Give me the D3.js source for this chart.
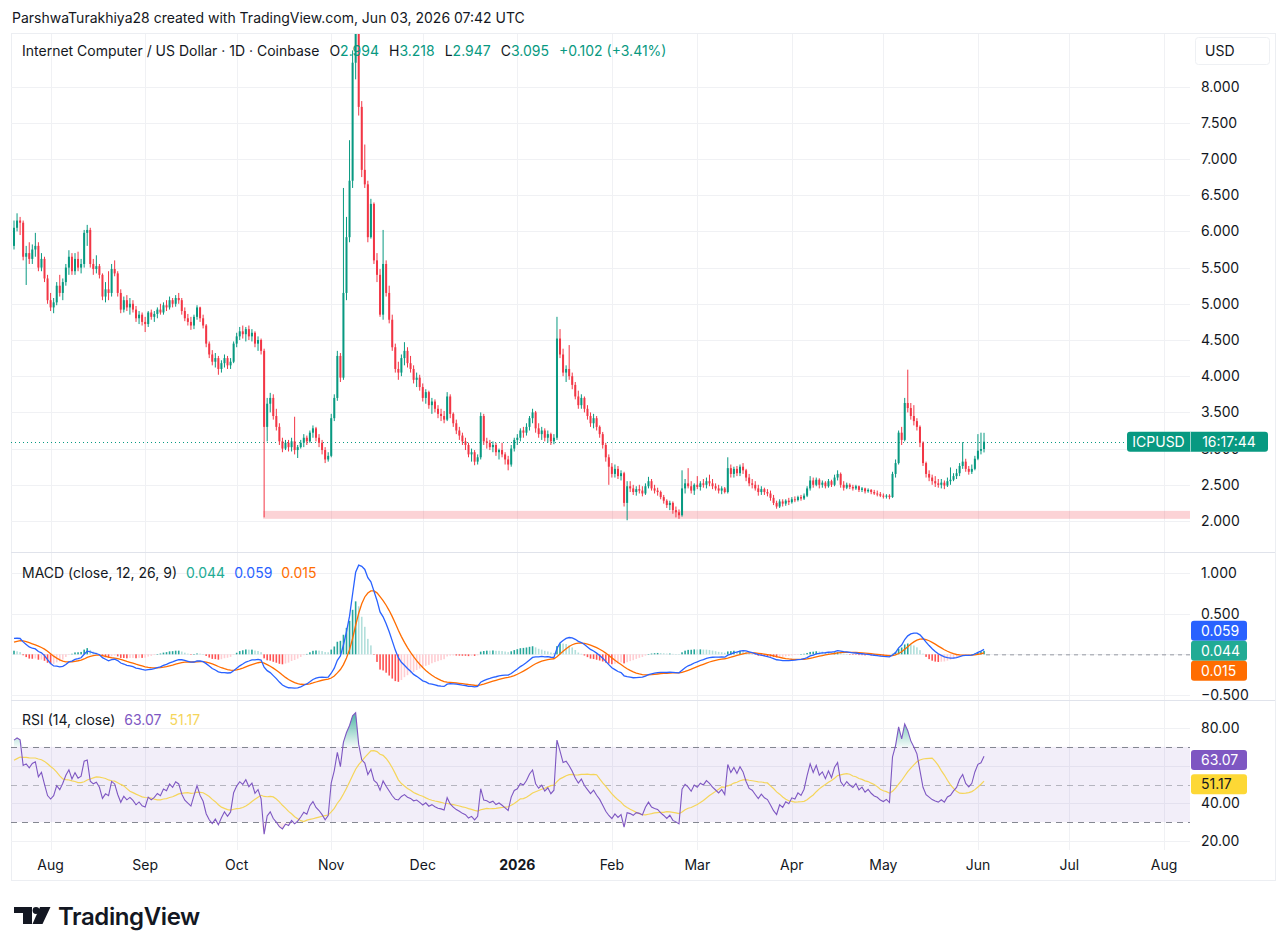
<!DOCTYPE html>
<html><head><meta charset="utf-8">
<script src="https://cdn.jsdelivr.net/npm/d3@7/dist/d3.min.js"></script>
<style>
html,body{margin:0;padding:0;background:#fff;}
svg{display:block;font-family:Inter,"Noto Sans",Roboto,sans-serif;}
</style></head><body>
<svg id="c" width="1287" height="952"></svg>
<script>
// ---------------- DATA ----------------
const startDate = "2025-07-20";   // first daily candle
const opens = [
5.80,6.05,6.15,6.12,5.65,5.70,5.62,5.75,5.80,5.50,
5.62,5.35,5.05,4.95,5.02,5.25,5.15,5.30,5.50,5.65,
5.45,5.62,5.50,5.55,5.98,6.02,5.55,5.48,5.52,5.40,
5.10,5.20,5.15,5.48,5.42,5.15,4.92,5.05,4.95,5.00,
4.92,4.80,4.85,4.75,4.72,4.88,4.82,4.86,4.92,4.88,
4.98,4.95,5.05,5.00,5.08,5.05,4.90,4.80,4.75,4.70,
4.82,4.95,4.80,4.70,4.45,4.30,4.20,4.25,4.10,4.18,
4.25,4.15,4.20,4.45,4.55,4.62,4.58,4.65,4.55,4.60,
4.45,4.50,4.35,3.30,3.62,3.70,3.45,3.30,3.10,3.00,
3.08,3.02,3.10,2.98,3.02,3.08,3.15,3.10,3.22,3.28,
3.15,3.08,2.98,2.85,2.90,3.42,3.70,4.28,3.98,5.15,
5.92,6.70,8.33,9.10,7.72,6.85,6.65,5.92,6.38,5.60,
5.40,4.85,5.55,5.15,4.78,4.40,4.10,4.05,4.25,4.35,
4.18,4.10,3.95,3.98,3.85,3.70,3.78,3.60,3.65,3.55,
3.48,3.45,3.40,3.72,3.48,3.35,3.25,3.18,3.10,3.05,
2.92,2.95,2.82,2.88,3.45,3.10,3.08,3.02,3.05,2.95,
2.98,2.92,2.85,2.78,3.00,3.12,3.15,3.25,3.22,3.30,
3.42,3.50,3.28,3.20,3.25,3.15,3.20,3.10,3.15,4.52,
4.30,4.05,4.10,4.00,3.88,3.72,3.60,3.70,3.55,3.45,
3.35,3.42,3.30,3.20,3.05,2.88,2.75,2.65,2.72,2.62,
2.66,2.25,2.48,2.45,2.40,2.44,2.42,2.38,2.48,2.55,
2.45,2.42,2.40,2.33,2.28,2.22,2.25,2.15,2.12,2.08,
2.45,2.52,2.48,2.42,2.50,2.47,2.52,2.50,2.55,2.52,
2.48,2.45,2.42,2.45,2.40,2.73,2.65,2.72,2.66,2.75,
2.70,2.60,2.52,2.50,2.45,2.40,2.44,2.40,2.38,2.32,
2.25,2.20,2.27,2.24,2.28,2.26,2.30,2.29,2.33,2.31,
2.35,2.45,2.56,2.50,2.57,2.50,2.53,2.48,2.55,2.50,
2.60,2.65,2.50,2.46,2.50,2.47,2.45,2.48,2.43,2.45,
2.41,2.43,2.40,2.38,2.37,2.35,2.34,2.35,2.33,2.65,
2.80,3.22,3.12,3.63,3.56,3.45,3.38,3.30,3.08,2.80,
2.65,2.60,2.55,2.52,2.50,2.53,2.49,2.55,2.57,2.62,
2.66,2.76,2.82,2.72,2.68,2.72,2.86,2.97,2.994];
const highs = [
6.15,6.25,6.20,6.15,5.80,5.85,5.82,5.98,5.85,5.70,
5.65,5.40,5.15,5.08,5.30,5.40,5.35,5.55,5.74,5.70,
5.70,5.72,5.62,6.02,6.09,6.05,5.62,5.67,5.55,5.42,
5.30,5.45,5.55,5.60,5.45,5.20,5.10,5.12,5.08,5.05,
4.97,4.90,4.88,4.82,4.90,4.92,4.90,4.95,5.00,5.02,
5.05,5.10,5.08,5.12,5.15,5.08,4.95,4.86,4.82,4.85,
4.98,4.96,4.85,4.72,4.48,4.36,4.32,4.28,4.22,4.30,
4.28,4.25,4.48,4.60,4.68,4.70,4.68,4.70,4.65,4.62,
4.55,4.52,4.38,3.70,3.77,3.75,3.55,3.35,3.15,3.12,
3.12,3.15,3.44,3.05,3.12,3.20,3.18,3.25,3.32,3.30,
3.20,3.12,3.02,2.95,3.48,3.75,4.35,4.32,6.60,6.20,
7.26,8.50,9.50,9.30,7.80,7.20,6.70,6.45,6.40,5.70,
5.48,6.02,5.60,5.25,4.85,4.45,4.20,4.30,4.47,4.40,
4.28,4.15,4.05,4.02,3.90,3.82,3.80,3.70,3.68,3.60,
3.55,3.52,3.78,3.75,3.50,3.40,3.30,3.22,3.15,3.08,
3.00,2.98,2.92,3.50,3.48,3.15,3.12,3.10,3.08,3.00,
3.08,2.95,2.90,3.05,3.15,3.20,3.28,3.30,3.35,3.45,
3.55,3.52,3.35,3.30,3.28,3.25,3.22,3.20,4.82,4.65,
4.38,4.15,4.43,4.05,3.92,3.80,3.75,3.72,3.60,3.50,
3.48,3.45,3.32,3.23,3.08,2.92,2.80,2.78,2.76,2.70,
2.68,2.55,2.55,2.50,2.48,2.50,2.48,2.52,2.61,2.58,
2.50,2.46,2.42,2.36,2.30,2.28,2.27,2.20,2.16,2.70,
2.58,2.73,2.55,2.52,2.62,2.55,2.58,2.60,2.64,2.58,
2.52,2.50,2.48,2.47,2.88,2.78,2.75,2.76,2.78,2.80,
2.72,2.65,2.58,2.55,2.50,2.48,2.46,2.44,2.42,2.36,
2.28,2.30,2.30,2.30,2.32,2.33,2.34,2.35,2.36,2.38,
2.48,2.62,2.60,2.60,2.59,2.56,2.55,2.58,2.57,2.64,
2.70,2.67,2.55,2.53,2.52,2.50,2.50,2.49,2.47,2.46,
2.45,2.44,2.43,2.42,2.40,2.38,2.37,2.37,2.68,2.85,
3.25,3.30,3.70,4.09,3.63,3.60,3.42,3.32,3.10,2.82,
2.70,2.64,2.62,2.58,2.58,2.56,2.60,2.74,2.66,2.72,
2.80,3.09,2.86,2.76,2.78,2.90,3.20,3.22,3.218];
const lows = [
5.75,6.00,5.95,5.60,5.26,5.55,5.55,5.65,5.45,5.45,
5.30,5.00,4.90,4.87,4.98,5.10,5.05,5.25,5.40,5.40,
5.40,5.45,5.42,5.50,5.80,5.50,5.40,5.42,5.35,5.05,
5.02,5.05,5.10,5.38,5.10,4.87,4.88,4.90,4.85,4.88,
4.75,4.72,4.70,4.61,4.68,4.78,4.75,4.80,4.85,4.85,
4.90,4.92,4.95,4.96,5.00,4.85,4.76,4.70,4.64,4.65,
4.78,4.75,4.66,4.40,4.25,4.15,4.12,4.02,4.05,4.12,
4.10,4.10,4.18,4.40,4.50,4.52,4.48,4.50,4.48,4.40,
4.35,4.30,2.05,3.10,3.50,3.40,3.25,3.05,2.95,2.98,
2.96,2.96,2.92,2.87,3.00,3.02,3.05,3.08,3.15,3.10,
3.02,2.92,2.80,2.82,2.88,3.38,3.66,3.92,3.95,5.05,
5.85,6.60,8.10,7.60,6.75,6.60,5.85,5.90,5.55,5.30,
4.82,4.78,5.10,4.73,4.35,4.05,3.95,4.00,4.15,4.12,
4.05,3.90,3.85,3.80,3.65,3.62,3.55,3.48,3.50,3.42,
3.38,3.35,3.38,3.42,3.30,3.20,3.12,3.05,2.98,2.88,
2.82,2.77,2.78,2.85,3.05,3.00,2.98,2.95,2.90,2.85,
2.88,2.78,2.70,2.75,2.96,3.05,3.10,3.15,3.18,3.25,
3.35,3.22,3.15,3.12,3.10,3.08,3.05,3.06,3.12,4.25,
4.00,3.92,3.95,3.82,3.68,3.55,3.55,3.50,3.40,3.30,
3.28,3.25,3.15,3.00,2.82,2.50,2.60,2.60,2.58,2.56,
2.20,2.01,2.40,2.36,2.35,2.38,2.34,2.36,2.45,2.42,
2.38,2.35,2.30,2.24,2.18,2.15,2.10,2.05,2.03,2.06,
2.38,2.45,2.38,2.36,2.44,2.42,2.46,2.45,2.48,2.44,
2.42,2.38,2.37,2.38,2.38,2.60,2.60,2.62,2.62,2.65,
2.55,2.48,2.45,2.42,2.35,2.36,2.36,2.34,2.28,2.22,
2.17,2.18,2.20,2.21,2.22,2.24,2.26,2.27,2.28,2.29,
2.33,2.42,2.46,2.48,2.45,2.46,2.45,2.46,2.47,2.48,
2.56,2.46,2.42,2.44,2.44,2.42,2.43,2.40,2.40,2.38,
2.39,2.37,2.36,2.34,2.33,2.31,2.31,2.30,2.32,2.60,
2.78,3.05,3.10,3.50,3.40,3.32,3.25,3.02,2.76,2.60,
2.55,2.50,2.47,2.46,2.45,2.44,2.47,2.50,2.55,2.58,
2.62,2.72,2.68,2.64,2.65,2.70,2.84,2.92,2.947];
const closes = [
6.05,6.15,6.12,5.65,5.70,5.62,5.75,5.80,5.50,5.62,
5.35,5.05,4.95,5.02,5.25,5.15,5.30,5.50,5.65,5.45,
5.62,5.50,5.55,5.98,6.02,5.55,5.48,5.52,5.40,5.10,
5.20,5.15,5.48,5.42,5.15,4.92,5.05,4.95,5.00,4.92,
4.80,4.85,4.75,4.72,4.88,4.82,4.86,4.92,4.88,4.98,
4.95,5.05,5.00,5.08,5.05,4.90,4.80,4.75,4.70,4.82,
4.95,4.80,4.70,4.45,4.30,4.20,4.25,4.10,4.18,4.25,
4.15,4.20,4.45,4.55,4.62,4.58,4.65,4.55,4.60,4.45,
4.50,4.35,3.30,3.62,3.70,3.45,3.30,3.10,3.00,3.08,
3.02,3.10,2.98,3.02,3.08,3.15,3.10,3.22,3.28,3.15,
3.08,2.98,2.85,2.90,3.42,3.70,4.28,3.98,5.15,5.92,
6.70,8.33,9.10,7.72,6.85,6.65,5.92,6.38,5.60,5.40,
4.85,5.55,5.15,4.78,4.40,4.10,4.05,4.25,4.35,4.18,
4.10,3.95,3.98,3.85,3.70,3.78,3.60,3.65,3.55,3.48,
3.45,3.40,3.72,3.48,3.35,3.25,3.18,3.10,3.05,2.92,
2.95,2.82,2.88,3.45,3.10,3.08,3.02,3.05,2.95,2.98,
2.92,2.85,2.78,3.00,3.12,3.15,3.25,3.22,3.30,3.42,
3.50,3.28,3.20,3.25,3.15,3.20,3.10,3.15,4.52,4.30,
4.05,4.10,4.00,3.88,3.72,3.60,3.70,3.55,3.45,3.35,
3.42,3.30,3.20,3.05,2.88,2.75,2.65,2.72,2.62,2.66,
2.25,2.48,2.45,2.40,2.44,2.42,2.38,2.48,2.55,2.45,
2.42,2.40,2.33,2.28,2.22,2.25,2.15,2.12,2.08,2.45,
2.52,2.48,2.42,2.50,2.47,2.52,2.50,2.55,2.52,2.48,
2.45,2.42,2.45,2.40,2.73,2.65,2.72,2.66,2.75,2.70,
2.60,2.52,2.50,2.45,2.40,2.44,2.40,2.38,2.32,2.25,
2.20,2.27,2.24,2.28,2.26,2.30,2.29,2.33,2.31,2.35,
2.45,2.56,2.50,2.57,2.50,2.53,2.48,2.55,2.50,2.60,
2.65,2.50,2.46,2.50,2.47,2.45,2.48,2.43,2.45,2.41,
2.43,2.40,2.38,2.37,2.35,2.34,2.35,2.33,2.65,2.80,
3.22,3.12,3.63,3.56,3.45,3.38,3.30,3.08,2.80,2.65,
2.60,2.55,2.52,2.50,2.53,2.49,2.55,2.57,2.62,2.66,
2.76,2.82,2.72,2.68,2.72,2.86,2.97,2.994,3.095];

// state of the indicators before the first visible bar
const macdSeed = {ema12: 5.92, ema26: 5.72, signal: 0.14};
const rsiSeed = {avgGain: 0.12, avgLoss: 0.05, ma: 62};

const monthTicks = ["2025-08-01","2025-09-01","2025-10-01","2025-11-01","2025-12-01","2026-01-01",
  "2026-02-01","2026-03-01","2026-04-01","2026-05-01","2026-06-01","2026-07-01","2026-08-01"];
const monthLabels = ["Aug","Sep","Oct","Nov","Dec","2026","Feb","Mar","Apr","May","Jun","Jul","Aug"];
const priceTicks = [2,2.5,3,3.5,4,4.5,5,5.5,6,6.5,7,7.5,8];
const macdTicks = [1,0.5,0,-0.5];
const rsiTicks = [80,60,40,20];
const rsiLevels = [70,50,30];
const zone = {from: "2025-10-10", low: 2.03, high: 2.14};

const titleText = "ParshwaTurakhiya28 created with TradingView.com, Jun 03, 2026 07:42 UTC";
const symbolText = "Internet Computer / US Dollar · 1D · Coinbase";
const ohlcLabels = ["O","H","L","C"];
const ohlcValues = ["2.994","3.218","2.947","3.095"];
const changeText = "+0.102 (+3.41%)";
const lastPrice = 3.095, countdown = "16:17:44", ticker = "ICPUSD";
const macdLegend = ["0.044","0.059","0.015"];   // hist, macd, signal
const rsiLegend = ["63.07","51.17"];

// ---------------- LAYOUT ----------------
const L = 11, PR = 1190, AR = 1275;
const P = {top: 34, bot: 552}, M = {top: 553, bot: 700}, RS = {top: 701, bot: 850};
const up = "#089981", dn = "#F23645", grid = "#f0f1f4", text = "#131722", border = "#e0e3eb";

const svg = d3.select("#c");
const parse = d3.utcParse("%Y-%m-%d");
const t0 = parse(startDate);
const dates = closes.map((_, i) => d3.utcDay.offset(t0, i));
const idx = d3.range(closes.length);

const x = d3.scaleUtc().domain([parse("2025-07-20"), parse("2026-08-01")]).range([14, 1164]);
const y = d3.scaleLinear().domain([2, 8]).range([521, 86.6]);
const ym = d3.scaleLinear().domain([-0.5, 1]).range([695, 573]);
const yr = d3.scaleLinear().domain([20, 80]).range([841, 728]);

// ---------------- INDICATORS ----------------
function ema(vals, n, seed) {
  const a = 2 / (n + 1); let e = seed; return vals.map(v => (e = a * v + (1 - a) * e));
}
const e12 = ema(closes, 12, macdSeed.ema12), e26 = ema(closes, 26, macdSeed.ema26);
const macd = closes.map((_, i) => e12[i] - e26[i]);
const signal = ema(macd, 9, macdSeed.signal);
const hist = macd.map((m, i) => m - signal[i]);
let ag = rsiSeed.avgGain, al = rsiSeed.avgLoss, prev = opens[0];
const rsi = closes.map(c => {
  const ch = c - prev; prev = c;
  ag = (ag * 13 + Math.max(ch, 0)) / 14; al = (al * 13 + Math.max(-ch, 0)) / 14;
  return 100 - 100 / (1 + ag / al);
});
const rsiMA = rsi.map((_, i) => {
  const s = rsi.slice(Math.max(0, i - 13), i + 1);
  return (d3.sum(s) + (14 - s.length) * rsiSeed.ma) / 14;
});

// ---------------- FRAME & GRID ----------------
svg.append("rect").attr("x", 0).attr("y", 0).attr("width", 1287).attr("height", 952).attr("fill", "#fff");
svg.append("rect").attr("x", L + 0.5).attr("y", 33.5).attr("width", AR - L).attr("height", 847)
  .attr("fill", "none").attr("stroke", "#eceef2");

const gGrid = svg.append("g").attr("stroke", grid).attr("stroke-width", 1);
monthTicks.forEach(d => {
  const xx = Math.round(x(parse(d))) + 0.5;
  [[P.top, P.bot], [M.top, M.bot], [RS.top, RS.bot]].forEach(([a, b]) =>
    gGrid.append("line").attr("x1", xx).attr("x2", xx).attr("y1", a).attr("y2", b));
});
priceTicks.forEach(v => gGrid.append("line").attr("x1", L).attr("x2", PR).attr("y1", Math.round(y(v)) + 0.5).attr("y2", Math.round(y(v)) + 0.5));
macdTicks.forEach(v => gGrid.append("line").attr("x1", L).attr("x2", PR).attr("y1", Math.round(ym(v)) + 0.5).attr("y2", Math.round(ym(v)) + 0.5));
rsiTicks.forEach(v => gGrid.append("line").attr("x1", L).attr("x2", PR).attr("y1", Math.round(yr(v)) + 0.5).attr("y2", Math.round(yr(v)) + 0.5));

// pane separators
[552.5, 700.5].forEach(yy => svg.append("line").attr("x1", L).attr("x2", AR).attr("y1", yy).attr("y2", yy).attr("stroke", border));

// clip paths
const defs = svg.append("defs");
defs.append("clipPath").attr("id", "cp").append("rect").attr("x", L).attr("y", P.top).attr("width", PR - L).attr("height", P.bot - P.top);
defs.append("clipPath").attr("id", "cm").append("rect").attr("x", L).attr("y", M.top).attr("width", PR - L).attr("height", M.bot - M.top);
defs.append("clipPath").attr("id", "cr").append("rect").attr("x", L).attr("y", RS.top).attr("width", PR - L).attr("height", RS.bot - RS.top);

// ---------------- PRICE PANE ----------------
const gP = svg.append("g").attr("clip-path", "url(#cp)");
gP.append("rect").attr("x", x(parse(zone.from)) - 1).attr("y", y(zone.high))
  .attr("width", PR - x(parse(zone.from)) + 1).attr("height", y(zone.low) - y(zone.high))
  .attr("fill", "rgba(242,54,69,0.22)");
gP.append("line").attr("x1", L).attr("x2", 1127).attr("y1", Math.round(y(lastPrice)) + 0.5).attr("y2", Math.round(y(lastPrice)) + 0.5)
  .attr("stroke", up).attr("stroke-dasharray", "1,3");
const cx = i => x(dates[i]);
gP.selectAll("line.w").data(idx).join("line").attr("class", "w")
  .attr("x1", cx).attr("x2", cx).attr("y1", i => y(highs[i])).attr("y2", i => y(lows[i]))
  .attr("stroke", i => closes[i] >= opens[i] ? up : dn).attr("stroke-width", 1);
gP.selectAll("rect.b").data(idx).join("rect").attr("class", "b")
  .attr("x", i => cx(i) - 1).attr("width", 2)
  .attr("y", i => y(Math.max(opens[i], closes[i])))
  .attr("height", i => Math.max(1, Math.abs(y(opens[i]) - y(closes[i]))))
  .attr("fill", i => closes[i] >= opens[i] ? up : dn);

// axis label clipping: tick labels partly covered by value boxes only show their uncovered part
const lpY = y(lastPrice);
defs.append("clipPath").attr("id", "cpa").append("path")
  .attr("d", `M1190,30 H1287 V${lpY - 10} H1190 Z M1190,${lpY + 10} H1287 V552 H1190 Z`);
const rTop = yr(+rsiLegend[0]) - 10, rBot = yr(+rsiLegend[1]) + 12;
defs.append("clipPath").attr("id", "cra").append("path")
  .attr("d", `M1190,700 H1287 V${rTop} H1190 Z M1190,${rBot} H1287 V852 H1190 Z`);

// price axis
const gA = svg.append("g").attr("font-size", 14).attr("fill", text).attr("clip-path", "url(#cpa)");
priceTicks.forEach(v => gA.append("text").attr("x", 1201).attr("y", y(v)).attr("dy", "0.35em").text(d3.format(".3f")(v)));
svg.append("rect").attr("x", 1195.5).attr("y", 37.5).attr("width", 74).attr("height", 27).attr("rx", 3)
  .attr("fill", "#fff").attr("stroke", "#eef0f3");
svg.append("text").attr("x", 1205).attr("y", 51).attr("dy", "0.35em").attr("font-size", 14).attr("fill", text).text("USD");

// last price label
svg.append("rect").attr("x", 1127).attr("y", lpY - 10).attr("width", 141).attr("height", 20).attr("rx", 3).attr("fill", up);
svg.append("line").attr("x1", 1190.5).attr("x2", 1190.5).attr("y1", lpY - 10).attr("y2", lpY + 10).attr("stroke", "#fff").attr("stroke-opacity", 0.6);
svg.append("text").attr("x", 1158.5).attr("y", lpY).attr("dy", "0.35em").attr("text-anchor", "middle").attr("font-size", 14).attr("fill", "#fff").text(ticker);
svg.append("text").attr("x", 1229).attr("y", lpY).attr("dy", "0.35em").attr("text-anchor", "middle").attr("font-size", 14).attr("fill", "#fff").text(countdown);

// ---------------- MACD PANE ----------------
const gM = svg.append("g").attr("clip-path", "url(#cm)");
const histColor = (h, p) => h >= 0 ? (h >= p ? "#26A69A" : "#B2DFDB") : (h < p ? "#FF5252" : "#FFCDD2");
gM.selectAll("rect.h").data(idx).join("rect").attr("class", "h")
  .attr("x", i => cx(i) - 0.8).attr("width", 1.6)
  .attr("y", i => Math.min(ym(0), ym(hist[i])))
  .attr("height", i => Math.max(0.5, Math.abs(ym(hist[i]) - ym(0))))
  .attr("fill", i => histColor(hist[i], i ? hist[i - 1] : hist[i]));
gM.append("line").attr("x1", cx(closes.length - 1) + 2).attr("x2", PR).attr("y1", ym(0) + 0.5).attr("y2", ym(0) + 0.5)
  .attr("stroke", "#9598a1").attr("stroke-dasharray", "4,4");
const lineM = d3.line().x((d, i) => cx(i)).y(d => ym(d));
gM.append("path").datum(signal).attr("d", lineM).attr("fill", "none").attr("stroke", "#FF6D00").attr("stroke-width", 1.3);
gM.append("path").datum(macd).attr("d", lineM).attr("fill", "none").attr("stroke", "#2962FF").attr("stroke-width", 1.3);
const mTickFmt = v => (v < 0 ? "\u2212" : "") + d3.format(".3f")(Math.abs(v));
const gMA = svg.append("g").attr("font-size", 14).attr("fill", text);
macdTicks.filter(v => v !== 0).forEach(v => gMA.append("text").attr("x", 1201).attr("y", ym(v)).attr("dy", "0.35em").text(mTickFmt(v)));

// ---------------- RSI PANE ----------------
const gR = svg.append("g").attr("clip-path", "url(#cr)");
gR.append("rect").attr("x", L).attr("width", PR - L).attr("y", yr(70)).attr("height", yr(30) - yr(70)).attr("fill", "rgba(126,87,194,0.1)");
rsiLevels.forEach(v => gR.append("line").attr("x1", L).attr("x2", PR).attr("y1", Math.round(yr(v)) + 0.5).attr("y2", Math.round(yr(v)) + 0.5)
  .attr("stroke", "#787b86").attr("stroke-opacity", v === 50 ? 0.5 : 0.9).attr("stroke-dasharray", "6,5"));
const gradOB = defs.append("linearGradient").attr("id", "gob").attr("x1", 0).attr("x2", 0)
  .attr("gradientUnits", "userSpaceOnUse").attr("y1", yr(90)).attr("y2", yr(70));
gradOB.append("stop").attr("offset", 0).attr("stop-color", "rgba(8,153,129,0.8)");
gradOB.append("stop").attr("offset", 1).attr("stop-color", "rgba(8,153,129,0.05)");
const gradOS = defs.append("linearGradient").attr("id", "gos").attr("x1", 0).attr("x2", 0)
  .attr("gradientUnits", "userSpaceOnUse").attr("y1", yr(30)).attr("y2", yr(10));
gradOS.append("stop").attr("offset", 0).attr("stop-color", "rgba(242,54,69,0.05)");
gradOS.append("stop").attr("offset", 1).attr("stop-color", "rgba(242,54,69,0.8)");
gR.append("path").datum(rsi).attr("fill", "url(#gob)")
  .attr("d", d3.area().x((d, i) => cx(i)).y0(yr(70)).y1(d => yr(Math.max(d, 70))));
gR.append("path").datum(rsi).attr("fill", "url(#gos)")
  .attr("d", d3.area().x((d, i) => cx(i)).y0(yr(30)).y1(d => yr(Math.min(d, 30))));
const lineR = d3.line().x((d, i) => cx(i)).y(d => yr(d));
gR.append("path").datum(rsiMA).attr("d", lineR).attr("fill", "none").attr("stroke", "#F5D55A").attr("stroke-width", 1.2);
gR.append("path").datum(rsi).attr("d", lineR).attr("fill", "none").attr("stroke", "#7E57C2").attr("stroke-width", 1.1);
const gRA = svg.append("g").attr("font-size", 14).attr("fill", text).attr("clip-path", "url(#cra)");
rsiTicks.forEach(v => gRA.append("text").attr("x", 1201).attr("y", yr(v)).attr("dy", "0.35em").text(d3.format(".2f")(v)));

// value boxes on the axis (on top of tick labels)
function box(cy, fill, txt, col) {
  svg.append("rect").attr("x", 1191).attr("y", cy - 10).attr("width", 56).attr("height", 20).attr("rx", 3).attr("fill", fill);
  svg.append("text").attr("x", 1201).attr("y", cy).attr("dy", "0.35em").attr("font-size", 14).attr("fill", col).text(txt);
}
const hy = ym(+macdLegend[0]);
box(hy - 20, "#2962FF", macdLegend[1], "#fff");
box(hy, "#22AB94", macdLegend[0], "#fff");
box(hy + 20, "#FF6D00", macdLegend[2], "#fff");
box(yr(+rsiLegend[0]), "#7E57C2", rsiLegend[0], "#fff");
box(yr(+rsiLegend[1]) + 2, "#FDD835", rsiLegend[1], text);

// ---------------- TIME AXIS ----------------
monthTicks.forEach((d, i) => svg.append("text").attr("x", x(parse(d))).attr("y", 865).attr("dy", "0.35em")
  .attr("text-anchor", "middle").attr("font-size", 14).attr("fill", text)
  .attr("font-weight", monthLabels[i] === "2026" ? 700 : 400).text(monthLabels[i]));

// ---------------- LEGENDS ----------------
function row(x0, yb, items) {
  let xx = x0;
  items.forEach(it => {
    xx += it.gap || 0;
    const t = svg.append("text").attr("x", xx).attr("y", yb).attr("font-size", 14).attr("fill", it.c).text(it.t);
    xx += t.node().getComputedTextLength();
  });
}
svg.append("text").attr("x", 12).attr("y", 23).attr("font-size", 14).attr("fill", text).text(titleText);
const legItems = [{t: symbolText, c: text, ls: 0}];
ohlcLabels.forEach((l, i) => { legItems.push({t: l, c: text, gap: i === 0 ? 10 : 10}); legItems.push({t: ohlcValues[i], c: up}); });
legItems.push({t: changeText, c: up, gap: 10});
row(22, 56, legItems);
row(22, 578, [{t: "MACD (close, 12, 26, 9)", c: text}, {t: macdLegend[0], c: "#22AB94", gap: 9},
  {t: macdLegend[1], c: "#2962FF", gap: 9}, {t: macdLegend[2], c: "#FF6D00", gap: 9}]);
row(22, 725, [{t: "RSI (14, close)", c: text}, {t: rsiLegend[0], c: "#7E57C2", gap: 9}, {t: rsiLegend[1], c: "#F5D55A", gap: 8}]);

// ---------------- LOGO ----------------
const gL = svg.append("g").attr("fill", text);
gL.append("path").attr("d", "M14,907 H32 V924 H23 V913 H14 Z");
gL.append("circle").attr("cx", 36).attr("cy", 910.5).attr("r", 3.4);
gL.append("path").attr("d", "M40,907 H50.5 L42.5,924 H32.5 Z");
gL.append("text").attr("x", 58).attr("y", 925).attr("font-size", 24).attr("font-weight", 600).attr("letter-spacing", -0.4).text("TradingView");
</script>
</body></html>
